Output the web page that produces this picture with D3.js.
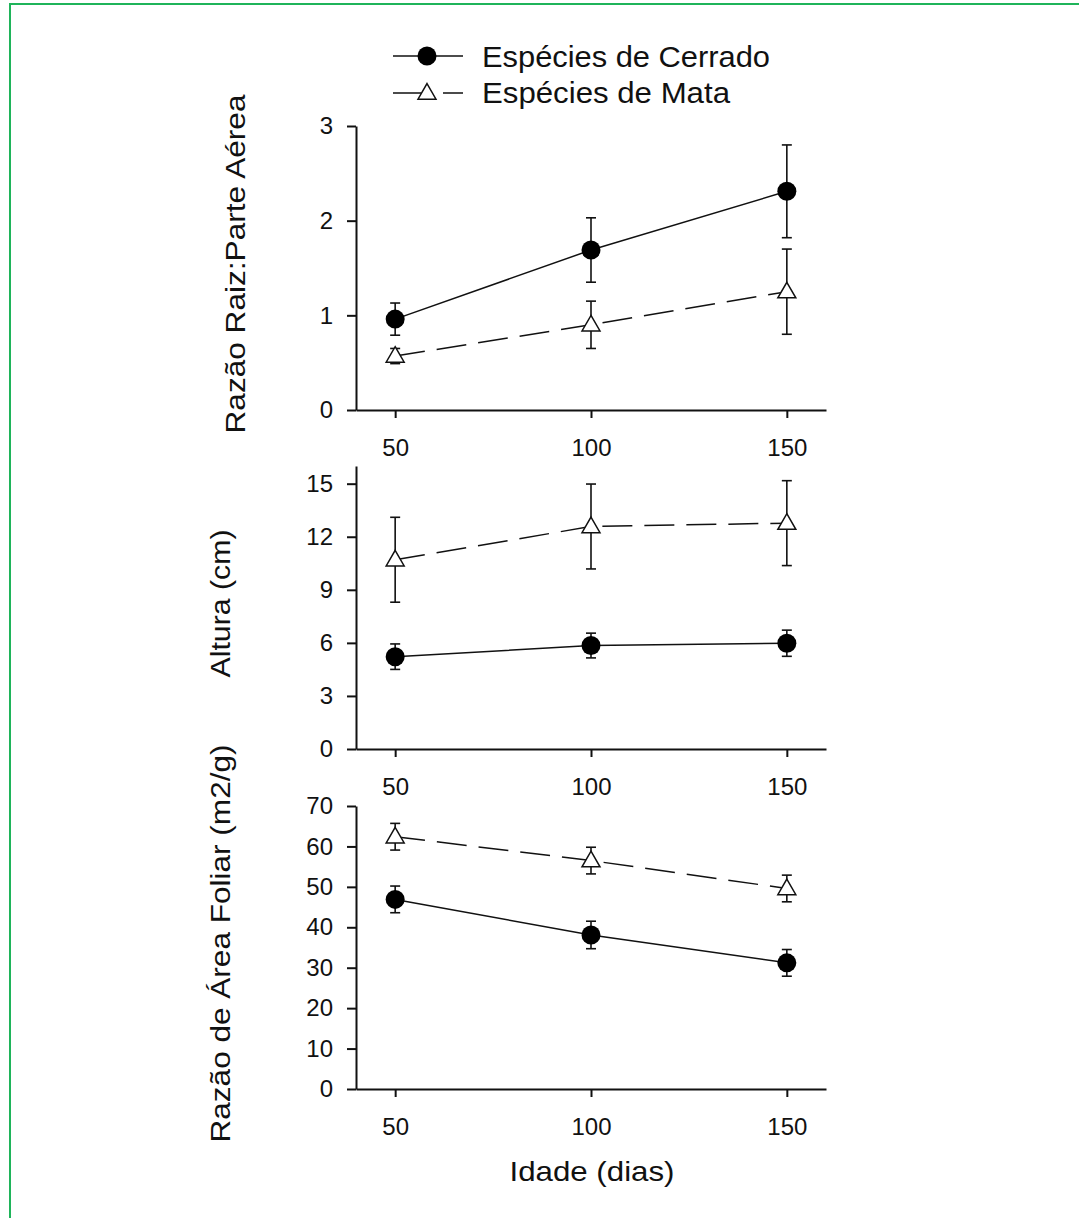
<!DOCTYPE html>
<html lang="pt">
<head>
<meta charset="utf-8">
<script src="https://d3js.org/d3.v7.min.js"></script>
<style>
  body { margin: 0; background: #fff; }
  text { font-family: "Liberation Sans", Arial, sans-serif; fill: #111; }
</style>
</head>
<body>
<script>
// data
var idade = [50, 100, 150];
var xTicks = [50, 100, 150];

var razaoCerrado = [0.96, 1.69, 2.31];
var razaoCerradoErr = [0.17, 0.34, 0.49];
var razaoMata = [0.57, 0.90, 1.25];
var razaoMataErr = [0.08, 0.25, 0.45];
var razaoTicks = [0, 1, 2, 3];

var alturaCerrado = [5.22, 5.85, 5.98];
var alturaCerradoErr = [0.72, 0.70, 0.74];
var alturaMata = [10.7, 12.58, 12.77];
var alturaMataErr = [2.4, 2.4, 2.4];
var alturaTicks = [0, 3, 6, 9, 12, 15];

var rafCerrado = [46.9, 38.1, 31.2];
var rafCerradoErr = [3.3, 3.4, 3.3];
var rafMata = [62.4, 56.5, 49.6];
var rafMataErr = [3.3, 3.3, 3.3];
var rafTicks = [0, 10, 20, 30, 40, 50, 60, 70];

var seriesNames = ["Espécies de Cerrado", "Espécies de Mata"];

var width = 1079, height = 1218;
var svg = d3.select("body").append("svg")
  .attr("width", width)
  .attr("height", height);

// green frame
svg.append("rect")
  .attr("x", 10).attr("y", 4)
  .attr("width", 1080).attr("height", 1230)
  .attr("fill", "none")
  .attr("stroke", "#1fb45a")
  .attr("stroke-width", 2);

var x = d3.scaleLinear().domain([40, 160]).range([356, 826]);

var panels = [
  { label: "Razão Raiz:Parte Aérea", max: 3, top: 126, bottom: 410, ticks: razaoTicks,
    cer: razaoCerrado, cerErr: razaoCerradoErr, mat: razaoMata, matErr: razaoMataErr,
    titleX: 245, titleLen: 339 },
  { label: "Altura (cm)", max: 16, top: 466, bottom: 749, ticks: alturaTicks,
    cer: alturaCerrado, cerErr: alturaCerradoErr, mat: alturaMata, matErr: alturaMataErr,
    titleX: 230, titleLen: 148 },
  { label: "Razão de Área Foliar (m2/g)", max: 70, top: 806, bottom: 1089, ticks: rafTicks,
    cer: rafCerrado, cerErr: rafCerradoErr, mat: rafMata, matErr: rafMataErr,
    titleX: 230, titleLen: 398 }
];

var tri = d3.symbol().type(d3.symbolTriangle).size(140);

panels.forEach(function (p) {
  var y = d3.scaleLinear().domain([0, p.max]).range([p.bottom, p.top]);
  var g = svg.append("g");

  var yAxis = g.append("g")
    .attr("transform", "translate(" + x.range()[0] + ",0)")
    .call(d3.axisLeft(y).tickValues(p.ticks).tickFormat(d3.format("d"))
      .tickSize(9).tickSizeOuter(0).tickPadding(14));
  var xAxis = g.append("g")
    .attr("transform", "translate(0," + p.bottom + ")")
    .call(d3.axisBottom(x).tickValues(xTicks).tickFormat(d3.format("d"))
      .tickSize(8).tickSizeOuter(0).tickPadding(21));

  [yAxis, xAxis].forEach(function (a) {
    a.selectAll("path, line").attr("stroke", "#111").attr("stroke-width", 2);
    a.selectAll("text").attr("font-size", 24).attr("fill", "#222")
      .style("font-family", "'Liberation Sans', Arial, sans-serif");
  });

  // y title
  var cy = (p.top + p.bottom) / 2 - 4;
  g.append("text")
    .attr("transform", "translate(" + p.titleX + "," + cy + ") rotate(-90)")
    .attr("text-anchor", "middle")
    .attr("font-size", 27)
    .attr("textLength", p.titleLen)
    .attr("lengthAdjust", "spacingAndGlyphs")
    .text(p.label);

  var line = d3.line().x(function (d, i) { return x(idade[i]); }).y(function (d) { return y(d); });

  // lines
  g.append("path").datum(p.mat).attr("d", line)
    .attr("fill", "none").attr("stroke", "#111").attr("stroke-width", 1.5)
    .attr("stroke-dasharray", "30,12");
  g.append("path").datum(p.cer).attr("d", line)
    .attr("fill", "none").attr("stroke", "#111").attr("stroke-width", 1.5);

  // error bars
  [[p.cer, p.cerErr], [p.mat, p.matErr]].forEach(function (s) {
    s[0].forEach(function (v, i) {
      var cx = x(idade[i]);
      var y1 = y(v + s[1][i]), y2 = y(v - s[1][i]);
      var eb = g.append("g").attr("stroke", "#111").attr("stroke-width", 1.6);
      eb.append("line").attr("x1", cx).attr("x2", cx).attr("y1", y1).attr("y2", y2);
      eb.append("line").attr("x1", cx - 5).attr("x2", cx + 5).attr("y1", y1).attr("y2", y1);
      eb.append("line").attr("x1", cx - 5).attr("x2", cx + 5).attr("y1", y2).attr("y2", y2);
    });
  });

  // markers
  g.selectAll(".tri").data(p.mat).join("path")
    .attr("d", tri)
    .attr("transform", function (d, i) { return "translate(" + x(idade[i]) + "," + (y(d) + 1) + ")"; })
    .attr("fill", "#fff").attr("stroke", "#111").attr("stroke-width", 1.5);
  g.selectAll(".dot").data(p.cer).join("circle")
    .attr("cx", function (d, i) { return x(idade[i]); })
    .attr("cy", function (d) { return y(d); })
    .attr("r", 9.5)
    .attr("fill", "#000");
});

// x title
svg.append("text")
  .attr("x", 592).attr("y", 1181)
  .attr("text-anchor", "middle")
  .attr("font-size", 28)
  .attr("textLength", 165)
  .attr("lengthAdjust", "spacingAndGlyphs")
  .text("Idade (dias)");

// legend
var leg = svg.append("g");
leg.append("line").attr("x1", 393).attr("x2", 463).attr("y1", 56).attr("y2", 56)
  .attr("stroke", "#111").attr("stroke-width", 1.5);
leg.append("circle").attr("cx", 427).attr("cy", 56).attr("r", 9.5).attr("fill", "#000");
leg.append("line").attr("x1", 393).attr("x2", 463).attr("y1", 93).attr("y2", 93)
  .attr("stroke", "#111").attr("stroke-width", 1.5).attr("stroke-dasharray", "28,22,20");
leg.append("path").attr("d", tri).attr("transform", "translate(427,94)")
  .attr("fill", "#fff").attr("stroke", "#111").attr("stroke-width", 1.5);
leg.selectAll(".lt").data(seriesNames).join("text")
  .attr("x", 482)
  .attr("y", function (d, i) { return 67 + i * 36; })
  .attr("font-size", 30)
  .attr("textLength", function (d, i) { return i === 0 ? 288 : 248; })
  .attr("lengthAdjust", "spacingAndGlyphs")
  .text(function (d) { return d; });
</script>
</body>
</html>
